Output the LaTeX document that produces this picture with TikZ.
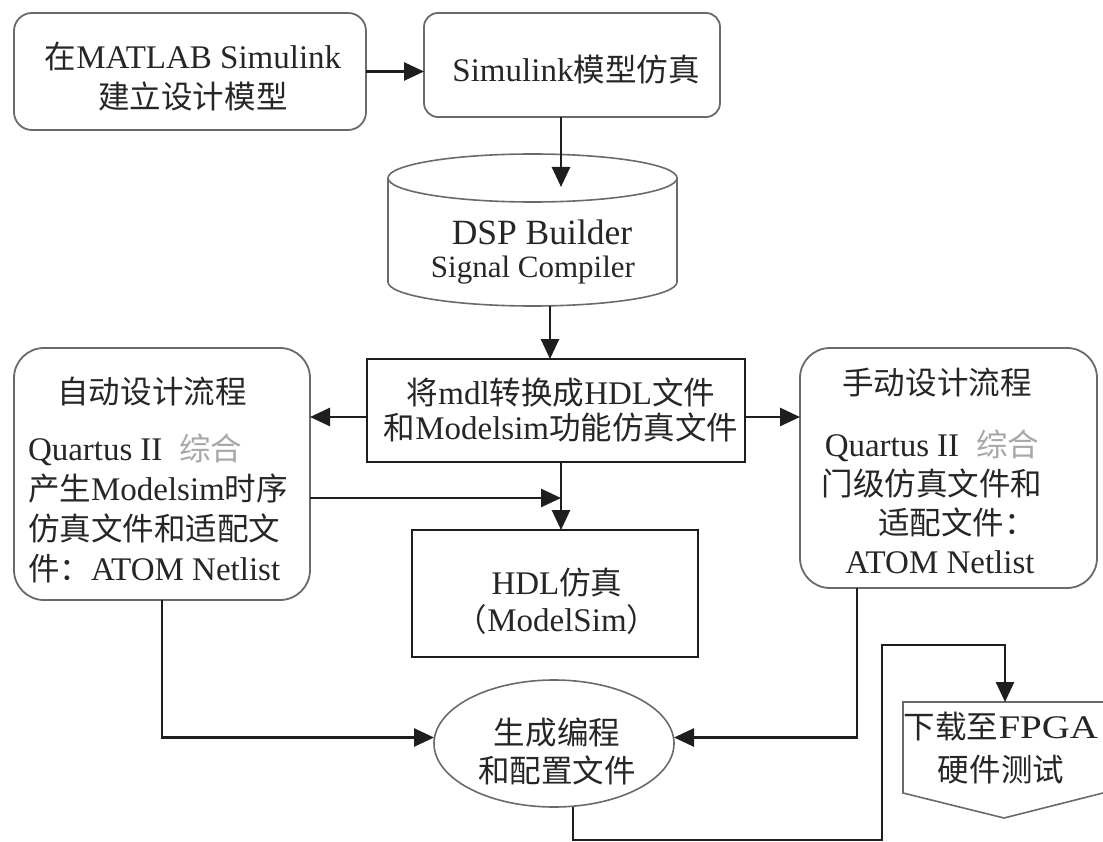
\documentclass[tikz,border=0pt]{standalone}
\usepackage{fontspec}
\usepackage{graphicx}
\setmainfont{Liberation Serif}
\newfontfamily\cjkfont[Scale=0.955]{Noto Sans CJK SC}
\newcommand{\zh}[1]{{\cjkfont #1}}
\usetikzlibrary{arrows.meta,shapes.geometric}
\definecolor{txt}{HTML}{262626}
\definecolor{bd}{HTML}{6A6A6A}
\definecolor{ln}{HTML}{1E1E1E}
\definecolor{lite}{HTML}{A8A8A8}
\begin{document}
\begin{tikzpicture}[x=1pt,y=-1pt,
  every node/.style={inner sep=0pt, outer sep=0pt, text=txt, font=\fontsize{33}{39}\selectfont},
  rbox/.style={draw=bd, line width=1.8pt, rounded corners=#1},
  rbox/.default=18pt,
  tbox/.style={draw=ln, line width=2.8pt},
  thinshape/.style={draw=bd, line width=1.6pt},
  conn/.style={draw=ln, line width=2.7pt, -{Triangle[length=20pt,width=18pt]}},
]
\fill[white] (0,0) rectangle (1103,842);
\useasboundingbox (0,0) rectangle (1103,842);

% top boxes
\node[rbox, minimum width=352pt, minimum height=117pt] (b1) at (190,71.5) {};
\node[align=center, font=\fontsize{33}{40}\selectfont] (b1t) at (193,77) {\zh{在}MATLAB Simulink\\\zh{建立设计模型}};
\node[rbox=14pt, minimum width=296pt, minimum height=104pt] (b2) at (572,65) {};
\node (b2t) at (576,70) {Simulink\zh{模型仿真}};

% cylinder
\node[minimum width=289pt, minimum height=152pt] (cyl) at (532.5,230) {};
\draw[thinshape] (388,178) -- (388,282) arc[start angle=180, end angle=0, x radius=144.5, y radius=24] -- (677,178);
\draw[thinshape] (532.5,178) ellipse [x radius=144.5, y radius=24];
\node[font=\fontsize{35.5}{40}\selectfont] (cyl1) at (542,232) {DSP Builder};
\node[font=\fontsize{31}{36}\selectfont] (cyl2) at (533,270) {Signal Compiler};
\coordinate (cylin) at (561,187);
\coordinate (cylout) at (550,306);

% conversion box
\node[tbox, minimum width=378pt, minimum height=103pt] (mdl) at (556,410.5) {};
\node[align=center, font=\fontsize{33}{35}\selectfont] (mdlt) at (561,409.5) {\zh{将}mdl\zh{转换成}HDL\zh{文件}\\\zh{和}Modelsim\zh{功能仿真文件}};

% HDL simulation box
\node[tbox, minimum width=286pt, minimum height=127pt] (hdl) at (555,593.5) {};
\node[align=center, font=\fontsize{33}{37}\selectfont] (hdlt) at (557,601.5) {HDL\zh{仿真}\\\zh{（}ModelSim\zh{）}};

% automatic flow
\node[rbox=30pt, minimum width=296pt, minimum height=252pt] (auto) at (162,474) {};
\node (autoh) at (152,392) {\zh{自动设计流程}};
\node[align=left, anchor=west, font=\fontsize{33}{40}\selectfont] (autob) at (28,508) {Quartus\hspace{8pt}II\hspace{17pt}{\color{lite}\zh{综合}}\\\zh{产生}Modelsim\zh{时序}\\\zh{仿真文件和适配文}\\\zh{件：}ATOM Netlist};

% manual flow
\node[rbox=30pt, minimum width=297pt, minimum height=240pt] (man) at (948.5,468) {};
\node (manh) at (937,383) {\zh{手动设计流程}};
\node[align=center, font=\fontsize{33}{39}\selectfont] (manb) at (932,501.5) {Quartus\hspace{8pt}II\hspace{17pt}{\color{lite}\zh{综合}}\\\zh{门级仿真文件和}\\\hspace*{50pt}\zh{适配文件：}\\\hspace*{16pt}ATOM Netlist};

% ellipse
\node[ellipse, thinshape, minimum width=240pt, minimum height=127pt] (gen) at (554,743.5) {};
\node[align=center, font=\fontsize{33}{38}\selectfont] (gent) at (557,751) {\zh{生成编程}\\\zh{和配置文件}};

% off-page connector
\draw[thinshape] (1103,702) -- (903,702) -- (903,793) -- (1004,818) -- (1103,793);
\coordinate (dltop) at (1005,702);
\node[align=center, font=\fontsize{33}{43}\selectfont] (dlt) at (1001,748.5) {\zh{下载至}\scalebox{1.18}[1]{FPGA}\\\zh{硬件测试}};

% connectors
\draw[conn] (b1.east) -- (b1.east -| b2.west);
\draw[conn] (b2.south -| cylin) -- (cylin);
\draw[conn] (cylout) -- (cylout |- mdl.north);
\draw[conn] ([yshift=-6.5pt]mdl.west) -- ([yshift=-6.5pt]mdl.west -| auto.east);
\draw[conn] ([yshift=-6.5pt]mdl.east) -- ([yshift=-6.5pt]mdl.east -| man.west);
\coordinate (vx) at ([xshift=5pt]mdl.south);
\draw[conn] (vx) -- (vx |- hdl.north);
\draw[conn] ([yshift=-24pt]auto.east) -- ([yshift=-24pt]auto.east -| vx);
\draw[conn] (auto.south) |- ([yshift=6pt]gen.west);
\draw[conn] ([xshift=-91.5pt]man.south) |- ([yshift=6pt]gen.east);
\draw[conn] ([xshift=19pt]gen.south) |- (882,840) -- (882,645) -| (dltop);
\end{tikzpicture}
\end{document}
